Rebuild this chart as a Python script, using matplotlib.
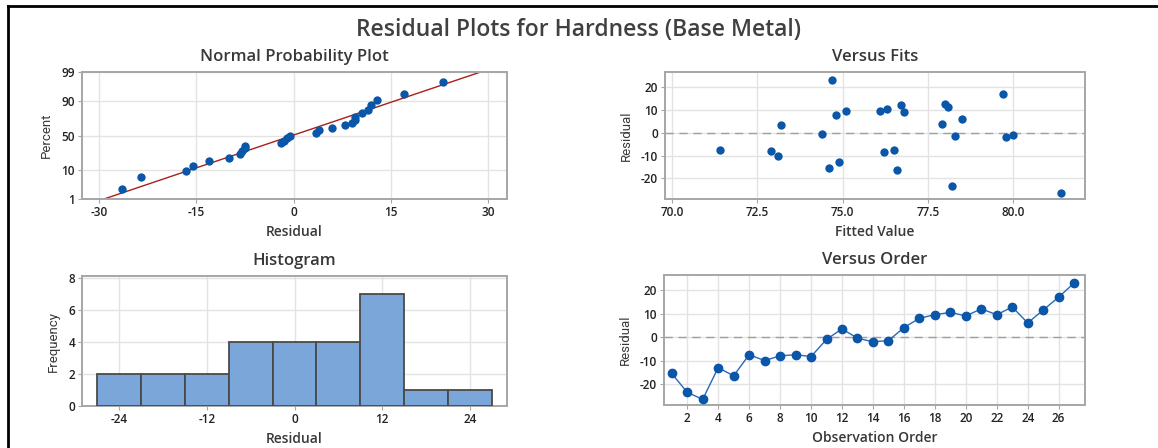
import numpy as np
import matplotlib
matplotlib.use("Agg")
import matplotlib.pyplot as plt
from matplotlib.lines import Line2D
from statistics import NormalDist

plt.rcParams["font.family"] = ["Open Sans", "DejaVu Sans"]
plt.rcParams["axes.unicode_minus"] = False

INK = "#383838"
FRAME = "#a6a6a6"
GRID = "#e3e3e3"
DOT = "#0a56a8"
BAR = "#7ba6d9"
LINE_RED = "#a8201a"

# residuals in observation order, with their fitted values
order = list(range(1, 28))
residual = [-15.5, -23.5, -26.5, -13.0, -16.5, -7.5, -10.0, -8.0, -7.5, -8.3,
            -1.0, 3.5, -0.5, -2.0, -1.5, 4.0, 8.0, 9.5, 10.5, 9.0,
            12.0, 9.5, 12.8, 6.0, 11.5, 17.0, 23.0]
fitted = [74.6, 78.2, 81.4, 74.9, 76.6, 71.4, 73.1, 72.9, 76.5, 76.2,
          80.0, 73.2, 74.4, 79.8, 78.3, 77.9, 74.8, 75.1, 76.3, 76.8,
          76.7, 76.1, 78.0, 78.5, 78.1, 79.7, 74.7]

pct_ticks = [1, 10, 50, 90, 99]
hist_edges = [-27, -21, -15, -9, -3, 3, 9, 15, 21, 27]

W, H = 1158, 448
fig = plt.figure(figsize=(W / 100, H / 100), dpi=100)


def box(l, r, t, b):
    return fig.add_axes([l / W, 1 - b / H, (r - l) / W, (b - t) / H])


def style(ax, title, xlabel, ylabel):
    for s in ax.spines.values():
        s.set_color(FRAME)
        s.set_linewidth(1.4)
    ax.grid(True, color=GRID, lw=1.0, zorder=0)
    ax.set_axisbelow(True)
    ax.tick_params(colors=FRAME, labelcolor="#222222", labelsize=8.5, length=3, width=0.8, pad=2)
    for lab in ax.get_xticklabels() + ax.get_yticklabels():
        lab.set_fontweight("semibold")
    ax.set_title(title, fontsize=12, color=INK, pad=8, fontweight="semibold")
    ax.set_xlabel(xlabel, fontsize=10, color=INK, labelpad=4, fontweight="semibold")
    ax.set_ylabel(ylabel, fontsize=9.5, color=INK, labelpad=6,
                  family=["Liberation Sans Narrow", "Roboto", "DejaVu Sans"])


nd = NormalDist()

# Normal probability plot
ax1 = box(82, 507, 72, 199)
res = np.array(residual)
srt = np.sort(res)
n = len(srt)
ranks = (np.arange(1, n + 1) - 0.3) / (n + 0.4)
z = [nd.inv_cdf(p) for p in ranks]
ax1.scatter(srt, z, s=36, color=DOT, zorder=3, linewidths=0)
zlo, zhi = nd.inv_cdf(0.01), nd.inv_cdf(0.99)
mu, sd = res.mean(), res.std(ddof=1)
ax1.plot([mu + zlo * sd, mu + zhi * sd], [zlo, zhi], color=LINE_RED, lw=1.0, zorder=2)
ax1.set_ylim(zlo, zhi)
ax1.set_xlim(-32.6, 32.9)
ax1.set_yticks([nd.inv_cdf(p / 100) for p in pct_ticks])
ax1.set_yticklabels([str(p) for p in pct_ticks])
ax1.set_xticks([-30, -15, 0, 15, 30])
style(ax1, "Normal Probability Plot", "Residual", "Percent")

# Versus fits
ax2 = box(665, 1085, 72, 199)
ax2.scatter(fitted, residual, s=36, color=DOT, zorder=3, linewidths=0)
ax2.axhline(0, color="#a0a0a0", lw=1.0, ls=(0, (6, 4)), zorder=2)
ax2.set_xlim(69.8, 82.1)
ax2.set_ylim(-29.1, 26.7)
ax2.set_xticks([70, 72.5, 75, 77.5, 80])
ax2.set_xticklabels(["70.0", "72.5", "75.0", "77.5", "80.0"])
ax2.set_yticks([-20, -10, 0, 10, 20])
style(ax2, "Versus Fits", "Fitted Value", "Residual")

# Histogram
ax3 = box(82, 507, 276, 406)
ax3.hist(residual, bins=hist_edges, color=BAR, edgecolor="#4a4a4a", linewidth=1.3, zorder=3)
ax3.set_xlim(-29.06, 29.06)
ax3.set_ylim(0, 8.12)
ax3.set_xticks([-24, -12, 0, 12, 24])
ax3.set_yticks([0, 2, 4, 6, 8])
style(ax3, "Histogram", "Residual", "Frequency")

# Versus order
ax4 = box(664, 1085, 275, 405)
ax4.plot(order, residual, color="#2a68b8", lw=1.0, marker="o", ms=6,
         mfc=DOT, mec=DOT, zorder=3)
ax4.axhline(0, color="#a0a0a0", lw=1.0, ls=(0, (6, 4)), zorder=2)
ax4.set_xlim(0.5, 27.7)
ax4.set_ylim(-28.9, 26.4)
ax4.set_xticks(range(2, 27, 2))
ax4.set_yticks([-20, -10, 0, 10, 20])
style(ax4, "Versus Order", "Observation Order", "Residual")

fig.text(0.5, 1 - 30 / H, "Residual Plots for Hardness (Base Metal)", ha="center", va="center",
         fontsize=16.5, color="#404040", fontweight="semibold")

# screenshot frame
fig.add_artist(Line2D([8 / W, 8 / W], [0, 1 - 6 / H], color="black", lw=2, transform=fig.transFigure))
fig.add_artist(Line2D([8 / W, 1], [1 - 6 / H, 1 - 6 / H], color="black", lw=2, transform=fig.transFigure))

fig.savefig("out.png", dpi=100, facecolor="white")
